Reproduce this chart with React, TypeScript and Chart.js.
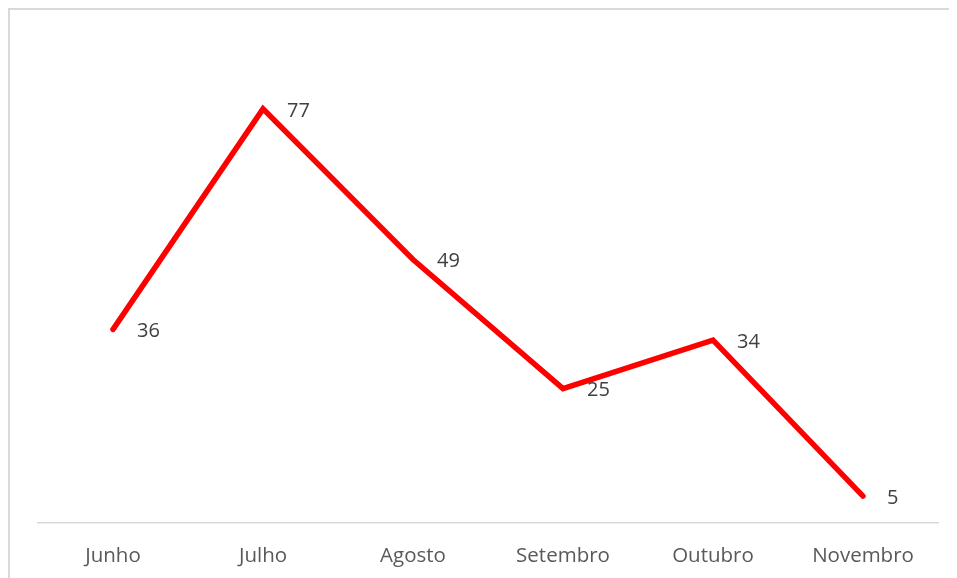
import React, { useEffect, useRef } from "react";
import { Chart, registerables } from "chart.js";

Chart.register(...registerables);

const categories = ["Junho", "Julho", "Agosto", "Setembro", "Outubro", "Novembro"];
const values = [36, 77, 49, 25, 34, 5];
const yMin = 0;
const yMax = 90;

const FONT = "'Open Sans', sans-serif";

const labelPlugin = {
  id: "pointLabels",
  afterDatasetsDraw(chart: any) {
    const ctx = chart.ctx;
    const meta = chart.getDatasetMeta(0);
    ctx.save();
    ctx.font = `20px ${FONT}`;
    ctx.fillStyle = "#404040";
    ctx.textAlign = "left";
    ctx.textBaseline = "middle";
    meta.data.forEach((pt: any, i: number) => {
      ctx.fillText(String(values[i]), pt.x + 24, pt.y + 2);
    });
    ctx.restore();
  },
};

export default function App() {
  const ref = useRef<HTMLCanvasElement | null>(null);
  useEffect(() => {
    document.documentElement.style.overflow = "hidden";
    document.body.style.overflow = "hidden";
    if (!ref.current) return;
    const chart = new Chart(ref.current, {
      type: "line",
      data: {
        labels: categories,
        datasets: [
          {
            data: values,
            borderColor: "#ff0000",
            borderWidth: 5.5,
            borderCapStyle: "round",
            borderJoinStyle: "miter",
            pointRadius: 0,
            pointHoverRadius: 0,
            tension: 0,
            fill: false,
          },
        ],
      },
      options: {
        responsive: false,
        animation: false,
        layout: { padding: { left: 28, right: 19, top: 29, bottom: 0 } },
        plugins: { legend: { display: false }, tooltip: { enabled: false } },
        scales: {
          x: {
            offset: true,
            grid: { display: false, drawTicks: false },
            border: { display: true, color: "#d9d9d9", width: 1.5 },
            ticks: {
              color: "#595959",
              font: { family: FONT, size: 20.5 },
              padding: 21,
              maxRotation: 0,
              autoSkip: false,
            },
            afterFit(scale: any) {
              scale.height = 55;
            },
          },
          y: {
            display: false,
            min: yMin,
            max: yMax,
          },
        },
      },
      plugins: [labelPlugin],
    });
    return () => chart.destroy();
  }, []);
  return (
    <div
      style={{
        width: 949,
        height: 570,
        boxSizing: "border-box",
        borderTop: "2px solid #d9d9d9",
        borderLeft: "2px solid #d9d9d9",
        overflow: "hidden",
      }}
    >
      <canvas ref={ref} width={947} height={568} style={{ display: "block" }} />
    </div>
  );
}
